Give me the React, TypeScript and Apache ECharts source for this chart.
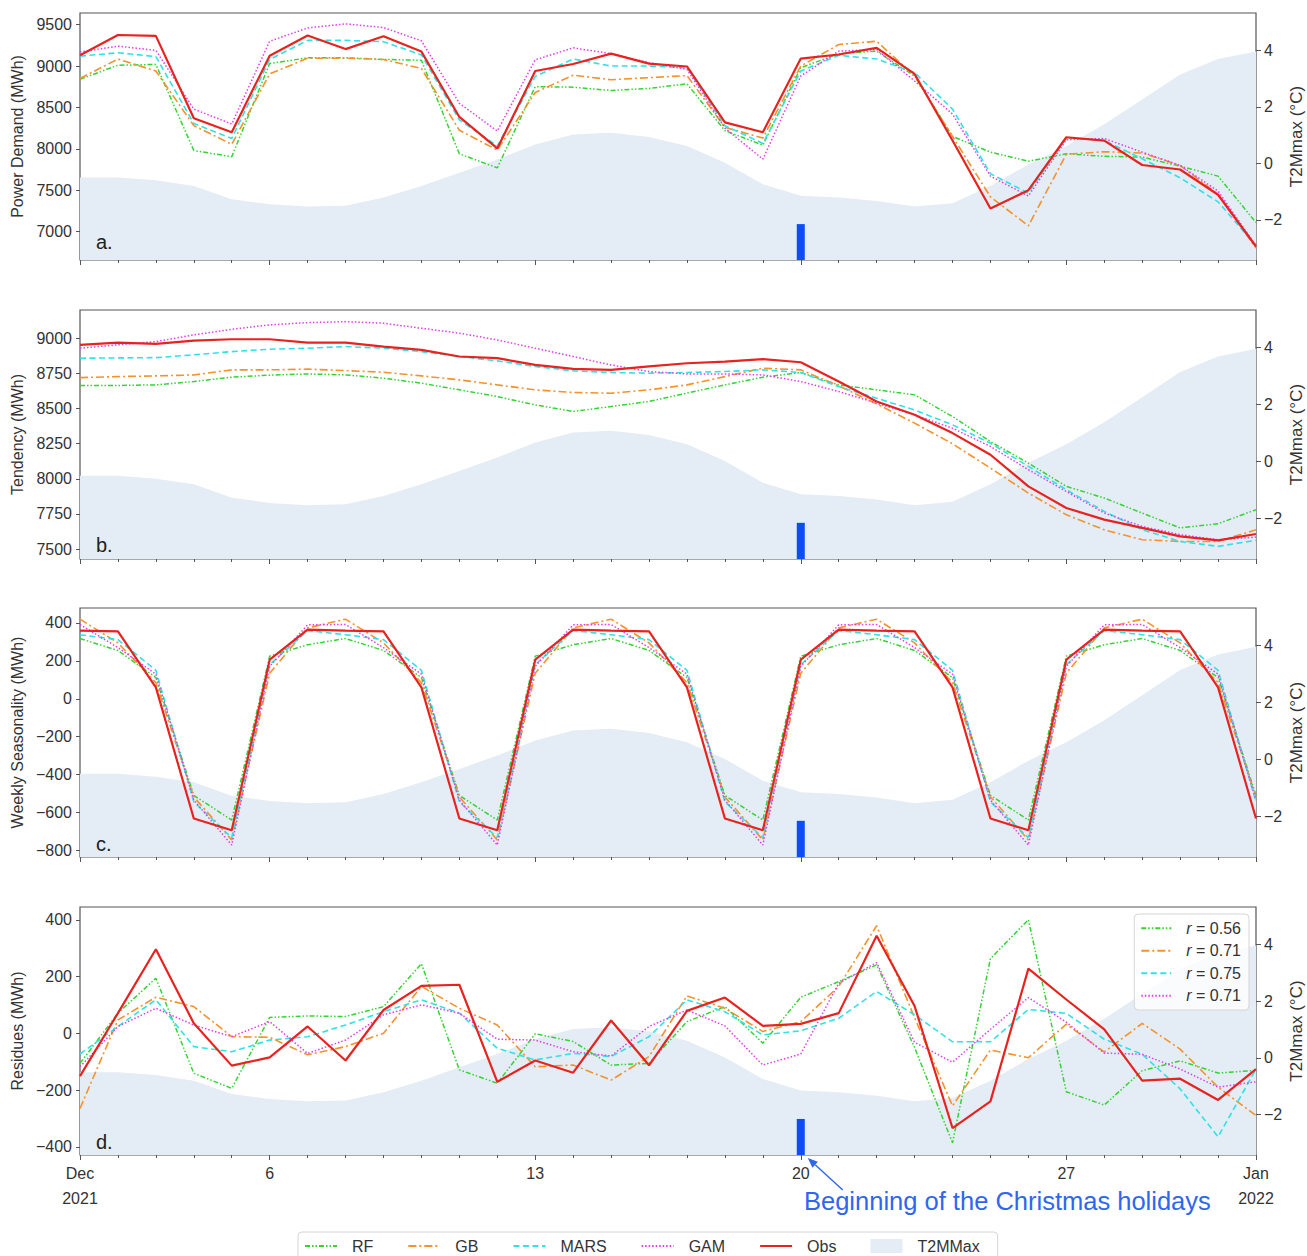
import React, { useEffect, useRef } from 'react';
import * as echarts from 'echarts';

// Daily values from Dec 1 2021 (index 0) to Jan 1 2022 (index 31)
const DAY_COUNT = 32;
const MAJOR_DAYS = [0, 5, 12, 19, 26, 31];
const MAJOR_LABELS = ['Dec\n2021', '6', '13', '20', '27', 'Jan\n2022'];

// Maximum 2 m temperature (°C)
const T2M_MAX = [-0.5, -0.5, -0.6, -0.8, -1.27, -1.45, -1.53, -1.5, -1.21, -0.8, -0.33, 0.14, 0.67, 1.02, 1.08, 0.93,
  0.61, 0.02, -0.74, -1.15, -1.21, -1.33, -1.53, -1.41, -0.8, -0.04, 0.61, 1.38, 2.26, 3.14, 3.69, 3.96];

// Start of the Christmas holidays (Dec 20) and the height of its marker (°C)
const HOLIDAY_DAY = 19;
const HOLIDAY_MARK_TOP = -2.15;

// a. Power demand (MWh)
const RF_DEMAND = [8840, 9010, 9020, 7980, 7905, 9030, 9100, 9100, 9080, 9070, 7940, 7770, 8750, 8745, 8705, 8730,
  8785, 8220, 8045, 8980, 9150, 9180, 8880, 8150, 7960, 7850, 7940, 7910, 7900, 7790, 7670, 7110];
const GB_DEMAND = [8850, 9085, 8940, 8280, 8055, 8905, 9095, 9095, 9080, 8970, 8225, 7985, 8680, 8890, 8835, 8860,
  8885, 8260, 8130, 9000, 9260, 9300, 8880, 8150, 7420, 7070, 7935, 7965, 7950, 7800, 7450, 6800];
const MARS_DEMAND = [9120, 9160, 9115, 8305, 8125, 9080, 9310, 9310, 9295, 9135, 8350, 8035, 8875, 9085, 9000, 9000,
  8980, 8280, 8065, 8940, 9130, 9085, 8920, 8480, 7700, 7465, 8135, 8100, 7880, 7650, 7360, 6830];
const GAM_DEMAND = [9170, 9240, 9190, 8480, 8300, 9300, 9460, 9510, 9465, 9305, 8550, 8215, 9075, 9220, 9150, 9040,
  8960, 8250, 7875, 8880, 9180, 9200, 8820, 8420, 7670, 7430, 8110, 8125, 7960, 7800, 7490, 6830];
const OBS_DEMAND = [9130, 9375, 9365, 8370, 8200, 9125, 9370, 9205, 9360, 9175, 8385, 8005, 8940, 9025, 9150, 9030,
  8995, 8320, 8200, 9090, 9140, 9220, 8905, 8100, 7280, 7500, 8140, 8100, 7805, 7750, 7445, 6820];

// b. Tendency (MWh)
const RF_TENDENCY = [8664, 8664, 8668, 8692, 8723, 8737, 8746, 8739, 8716, 8680, 8633, 8585, 8526, 8479, 8514, 8550,
  8609, 8668, 8723, 8756, 8668, 8633, 8597, 8443, 8265, 8111, 7946, 7863, 7756, 7650, 7680, 7780];
const GB_TENDENCY = [8720, 8727, 8732, 8739, 8775, 8775, 8780, 8770, 8758, 8732, 8704, 8668, 8633, 8614, 8609, 8633,
  8668, 8727, 8787, 8775, 8661, 8533, 8396, 8249, 8076, 7898, 7744, 7637, 7566, 7554, 7554, 7637];
const MARS_TENDENCY = [8858, 8860, 8862, 8882, 8905, 8922, 8929, 8941, 8929, 8905, 8870, 8839, 8799, 8768, 8756, 8751,
  8756, 8763, 8775, 8756, 8656, 8573, 8490, 8384, 8253, 8088, 7922, 7768, 7637, 7554, 7519, 7562];
const GAM_TENDENCY = [8929, 8953, 8976, 9024, 9064, 9095, 9111, 9118, 9107, 9071, 9036, 8988, 8929, 8870, 8810, 8763,
  8746, 8746, 8739, 8692, 8621, 8538, 8455, 8360, 8230, 8064, 7910, 7756, 7661, 7602, 7566, 7585];
const OBS_TENDENCY = [8953, 8969, 8960, 8983, 8993, 8993, 8969, 8969, 8941, 8917, 8870, 8858, 8810, 8782, 8775, 8800,
  8822, 8834, 8851, 8829, 8692, 8550, 8455, 8325, 8171, 7946, 7792, 7709, 7650, 7590, 7562, 7607];

// c. Weekly seasonality (MWh)
const RF_SEASONALITY = [318, 255, 112, -510, -640, 225, 285, 318, 255, 112, -510, -640, 225, 285, 318, 255,
  112, -510, -640, 225, 285, 318, 255, 112, -510, -640, 225, 285, 318, 255, 112, -510];
const GB_SEASONALITY = [420, 295, 85, -518, -745, 135, 374, 420, 295, 85, -518, -745, 135, 374, 420, 295,
  85, -518, -745, 135, 374, 420, 295, 85, -518, -745, 135, 374, 420, 295, 85, -518];
const MARS_SEASONALITY = [338, 312, 150, -544, -733, 180, 360, 338, 312, 150, -544, -733, 180, 360, 338, 312,
  150, -544, -733, 180, 360, 338, 312, 150, -544, -733, 180, 360, 338, 312, 150, -544];
const GAM_SEASONALITY = [392, 270, 130, -535, -772, 171, 390, 392, 270, 130, -535, -772, 171, 390, 392, 270,
  130, -535, -772, 171, 390, 392, 270, 130, -535, -772, 171, 390, 392, 270, 130, -535];
const OBS_SEASONALITY = [360, 356, 60, -632, -694, 206, 365, 360, 356, 60, -632, -694, 206, 365, 360, 356,
  60, -632, -694, 206, 365, 360, 356, 60, -632, -694, 206, 365, 360, 356, 60, -632];

// d. Residues (MWh)
const RF_RESIDUES = [-106, 71, 194, -141, -194, 56, 61, 59, 94, 245, -129, -176, -2, -29, -112, -106,
  41, 94, -35, 127, 182, 241, -50, -386, 263, 400, -206, -253, -132, -97, -140, -131];
const GB_RESIDUES = [-265, 47, 127, 94, -12, -14, -76, -47, 0, 165, 88, 29, -118, -112, -165, -82,
  132, 88, 6, 41, 165, 379, 55, -256, -59, -86, 32, -66, 35, -56, -190, -290];
const MARS_RESIDUES = [-73, 24, 118, -47, -65, -24, -12, 29, 76, 118, 71, -53, -94, -71, -82, -12,
  118, 76, -6, 9, 53, 147, 65, -30, -30, 84, 70, -21, -74, -196, -365, -126];
const GAM_RESIDUES = [-118, 24, 88, 29, -12, 41, -71, -24, 65, 100, 71, -21, -24, -65, -80, 24,
  82, 26, -112, -73, 176, 249, -32, -102, 14, 126, 39, -70, -74, -126, -190, -171];
const OBS_RESIDUES = [-151, 71, 296, 35, -114, -85, 24, -96, 82, 167, 171, -171, -96, -139, 45, -113,
  79, 126, 26, 33, 71, 344, 96, -334, -240, 228, 119, 14, -167, -160, -235, -126];

// Correlation of each model's residues with the observed ones
const RF_R = '0.56';
const GB_R = '0.71';
const MARS_R = '0.75';
const GAM_R = '0.71';

// Axis ticks
const DEMAND_TICKS = [7000, 7500, 8000, 8500, 9000, 9500];
const TENDENCY_TICKS = [7500, 7750, 8000, 8250, 8500, 8750, 9000];
const SEASONALITY_TICKS = [-800, -600, -400, -200, 0, 200, 400];
const RESIDUE_TICKS = [-400, -200, 0, 200, 400];
const T2M_TICKS = [-2, 0, 2, 4];
const T2M_RANGE = [-3.42, 5.32];

const FONT = '"Liberation Sans", Arial, Helvetica, sans-serif';
const TEXT = '#333333';
const FRAME = '#555555';
const AREA = '#e4ecf5';
const HOLIDAY_BLUE = '#0b4ef5';
const NOTE_BLUE = '#2e66f0';

const STYLES: Record<string, { color: string; width: number; type: any }> = {
  RF: { color: '#35d335', width: 1.5, type: [5, 2, 1.5, 2, 1.5, 2] },
  GB: { color: '#f5922c', width: 1.6, type: [8, 3, 2, 3] },
  MARS: { color: '#30e2e6', width: 1.6, type: [6, 3.5] },
  GAM: { color: '#e23ee8', width: 1.5, type: [1.5, 2] },
  Obs: { color: '#e8231f', width: 2.2, type: 'solid' },
};
const MODEL_ORDER = ['RF', 'GB', 'MARS', 'GAM', 'Obs'];

const PANELS = [
  {
    top: 13, height: 247, letter: 'a.', letterY: 243, name: 'Power Demand (MWh)',
    min: 6657, max: 9641, ticks: DEMAND_TICKS,
    values: { RF: RF_DEMAND, GB: GB_DEMAND, MARS: MARS_DEMAND, GAM: GAM_DEMAND, Obs: OBS_DEMAND },
  },
  {
    top: 310, height: 249, letter: 'b.', letterY: 546, name: 'Tendency (MWh)',
    min: 7429, max: 9201, ticks: TENDENCY_TICKS,
    values: { RF: RF_TENDENCY, GB: GB_TENDENCY, MARS: MARS_TENDENCY, GAM: GAM_TENDENCY, Obs: OBS_TENDENCY },
  },
  {
    top: 608, height: 249, letter: 'c.', letterY: 845, name: 'Weekly Seasonality (MWh)',
    min: -835, max: 479, ticks: SEASONALITY_TICKS,
    values: { RF: RF_SEASONALITY, GB: GB_SEASONALITY, MARS: MARS_SEASONALITY, GAM: GAM_SEASONALITY, Obs: OBS_SEASONALITY },
  },
  {
    top: 907, height: 248, letter: 'd.', letterY: 1143, name: 'Residues (MWh)',
    min: -429, max: 445, ticks: RESIDUE_TICKS,
    values: { RF: RF_RESIDUES, GB: GB_RESIDUES, MARS: MARS_RESIDUES, GAM: GAM_RESIDUES, Obs: OBS_RESIDUES },
  },
];

const R_LABELS: Record<string, string> = {
  'RF residues': RF_R,
  'GB residues': GB_R,
  'MARS residues': MARS_R,
  'GAM residues': GAM_R,
};

const GRID_LEFT = 80;
const GRID_RIGHT = 51;
const ALL_DAYS = Array.from({ length: DAY_COUNT }, (_, i) => i);

const minus = (v: number) => String(v).replace('-', '\u2212');
const toPairs = (vals: number[]) => vals.map((v, i) => [i, v]);

function buildOption() {
  const grid: any[] = [];
  const xAxis: any[] = [];
  const yAxis: any[] = [];
  const series: any[] = [];
  const graphic: any[] = [];

  PANELS.forEach((p, pi) => {
    const isLast = pi === PANELS.length - 1;
    grid.push({
      left: GRID_LEFT, right: GRID_RIGHT, top: p.top, height: p.height,
      outerBoundsMode: 'none', containLabel: false,
      show: true, borderColor: FRAME, borderWidth: 1.2, backgroundColor: 'transparent',
    });

    // one tick per day
    xAxis.push({
      type: 'value', gridIndex: pi, min: 0, max: DAY_COUNT - 1, position: 'bottom',
      axisLine: { show: false, onZero: false },
      axisTick: { show: true, length: 3, customValues: ALL_DAYS, lineStyle: { color: FRAME, width: 1 } },
      axisLabel: { show: false },
      splitLine: { show: false },
    });
    // weekly ticks with the date labels
    xAxis.push({
      type: 'value', gridIndex: pi, min: 0, max: DAY_COUNT - 1, position: 'bottom',
      axisLine: { show: false, onZero: false },
      axisTick: { show: true, length: 5, customValues: MAJOR_DAYS, lineStyle: { color: FRAME, width: 1 } },
      axisLabel: {
        show: isLast, customValues: MAJOR_DAYS, margin: 6,
        formatter: (v: number) => MAJOR_LABELS[MAJOR_DAYS.indexOf(Math.round(v))] ?? '',
        color: TEXT, fontSize: 16, lineHeight: 25, fontFamily: FONT,
      },
      splitLine: { show: false },
    });

    yAxis.push({
      type: 'value', gridIndex: pi, position: 'left', min: p.min, max: p.max,
      axisLine: { show: false, onZero: false },
      axisTick: { show: true, length: 4, customValues: p.ticks, lineStyle: { color: FRAME } },
      axisLabel: {
        customValues: p.ticks, formatter: (v: number) => minus(v), color: TEXT,
        fontSize: 16, fontFamily: FONT, margin: 8,
      },
      splitLine: { show: false },
      name: p.name, nameLocation: 'middle', nameGap: 54, nameRotate: 90,
      nameTextStyle: { color: TEXT, fontSize: 16, fontFamily: FONT },
    });
    yAxis.push({
      type: 'value', gridIndex: pi, position: 'right', min: T2M_RANGE[0], max: T2M_RANGE[1],
      axisLine: { show: false, onZero: false },
      axisTick: { show: true, length: 5, customValues: T2M_TICKS, lineStyle: { color: FRAME } },
      axisLabel: {
        customValues: T2M_TICKS, formatter: (v: number) => minus(v), color: TEXT,
        fontSize: 16, fontFamily: FONT, margin: 8,
      },
      splitLine: { show: false },
      name: 'T2Mmax (\u00b0C)', nameLocation: 'middle', nameGap: 32, nameRotate: 90,
      nameMoveOverlap: false,
      nameTextStyle: { color: TEXT, fontSize: 17, fontFamily: FONT },
    });

    const xIdx = pi * 2;
    const yLeft = pi * 2;
    const yRight = pi * 2 + 1;

    series.push({
      type: 'line', name: 'T2MMax', xAxisIndex: xIdx, yAxisIndex: yRight,
      data: toPairs(T2M_MAX), symbol: 'none', silent: true,
      lineStyle: { width: 0, color: AREA }, itemStyle: { color: AREA },
      areaStyle: { color: AREA, opacity: 1, origin: 'start' }, z: 1,
    });
    series.push({
      type: 'line', xAxisIndex: xIdx, yAxisIndex: yRight, silent: true,
      data: [[HOLIDAY_DAY, T2M_RANGE[0]], [HOLIDAY_DAY, HOLIDAY_MARK_TOP]],
      symbol: 'none', lineStyle: { width: 8, color: HOLIDAY_BLUE, cap: 'butt' }, z: 2,
    });
    MODEL_ORDER.forEach((m) => {
      const st = STYLES[m];
      series.push({
        type: 'line', name: isLast && m !== 'Obs' ? `${m} residues` : m,
        xAxisIndex: xIdx, yAxisIndex: yLeft,
        data: toPairs((p.values as any)[m]), symbol: 'none', showSymbol: false,
        lineStyle: { color: st.color, width: st.width, type: st.type, cap: 'butt' },
        itemStyle: { color: st.color }, z: m === 'Obs' ? 4 : 3,
      });
    });

    graphic.push({
      type: 'text', left: 96, top: p.letterY - 11,
      style: { text: p.letter, fontSize: 20, fontFamily: FONT, fill: '#222' },
      z: 10,
    });
  });

  // arrow and note for the holidays marker
  const dayX = GRID_LEFT + (HOLIDAY_DAY / (DAY_COUNT - 1)) * (1307 - GRID_LEFT - GRID_RIGHT);
  const tip = [dayX + 7, 1158];
  const tail = [dayX + 42, 1190];
  const dx = tip[0] - tail[0];
  const dy = tip[1] - tail[1];
  const len = Math.hypot(dx, dy);
  const ux = dx / len;
  const uy = dy / len;
  const base = [tip[0] - ux * 10, tip[1] - uy * 10];
  const px = -uy * 4;
  const py = ux * 4;
  graphic.push({
    type: 'line',
    shape: { x1: tail[0], y1: tail[1], x2: base[0], y2: base[1] },
    style: { stroke: NOTE_BLUE, lineWidth: 1.4 }, z: 10,
  });
  graphic.push({
    type: 'polygon',
    shape: { points: [tip, [base[0] + px, base[1] + py], [base[0] - px, base[1] - py]] },
    style: { fill: NOTE_BLUE }, z: 10,
  });
  graphic.push({
    type: 'text', left: 804, top: 1188,
    style: { text: 'Beginning of the Christmas holidays', fontSize: 25.5, fontFamily: FONT, fill: NOTE_BLUE },
    z: 10,
  });

  const legend = [
    {
      left: 298, top: 1232, orient: 'horizontal',
      data: [...MODEL_ORDER, { name: 'T2MMax', icon: 'rect', itemStyle: { color: AREA, opacity: 1 } }],
      itemWidth: 32, itemHeight: 14, itemGap: 34,
      padding: [6, 18, 12, 6],
      itemStyle: { opacity: 0 },
      backgroundColor: '#ffffff', borderColor: '#d6d6d6', borderWidth: 1, borderRadius: 4,
      textStyle: { color: TEXT, fontSize: 16, fontFamily: FONT, padding: [0, 0, 0, 10] },
      selectedMode: false,
    },
    {
      right: 58, top: 914, orient: 'vertical',
      data: Object.keys(R_LABELS),
      itemWidth: 30, itemHeight: 14, itemGap: 4,
      padding: [5, 8, 5, 6],
      itemStyle: { opacity: 0 },
      backgroundColor: 'rgba(255,255,255,0.8)', borderColor: '#d6d6d6', borderWidth: 1, borderRadius: 4,
      formatter: (name: string) => `{i|r} = ${R_LABELS[name]}`,
      textStyle: {
        color: TEXT, fontSize: 16, fontFamily: FONT, lineHeight: 18.5, padding: [0, 0, 0, 10],
        rich: { i: { fontStyle: 'italic', fontSize: 16, fontFamily: FONT, color: TEXT } },
      },
      selectedMode: false,
    },
  ];

  return {
    animation: false,
    backgroundColor: '#ffffff',
    textStyle: { fontFamily: FONT },
    grid, xAxis, yAxis, series, legend, graphic,
  };
}

export default function App() {
  const ref = useRef<HTMLDivElement>(null);
  useEffect(() => {
    if (!ref.current) return;
    const chart = echarts.init(ref.current, undefined, { renderer: 'svg' });
    chart.setOption(buildOption() as any);
    return () => chart.dispose();
  }, []);
  return (
    <div
      ref={ref}
      style={{ position: 'absolute', left: 0, top: 0, width: 1307, height: 1256, background: '#fff' }}
    />
  );
}
